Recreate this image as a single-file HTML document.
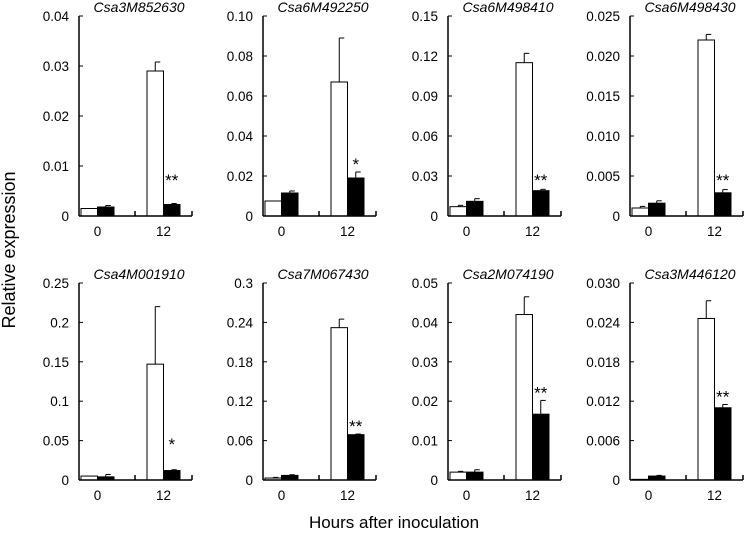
<!DOCTYPE html>
<html><head><meta charset="utf-8"><style>
html,body{margin:0;padding:0;background:#fff;}
svg{display:block;font-family:"Liberation Sans",Arial,sans-serif;}
</style></head><body>
<svg id="c" width="746" height="533">
<text x="15" y="250" font-size="18" text-anchor="middle" transform="rotate(-90 15 250)">Relative expression</text>
<text x="394" y="528" font-size="17" text-anchor="middle">Hours after inoculation</text>
</svg>
<script>
const titles=["Csa3M852630","Csa6M492250","Csa6M498410","Csa6M498430","Csa4M001910","Csa7M067430","Csa2M074190","Csa3M446120"];
const yMax=[0.04,0.10,0.15,0.025,0.25,0.3,0.05,0.030];
const tickLabels=[["0","0.01","0.02","0.03","0.04"],["0","0.02","0.04","0.06","0.08","0.10"],["0","0.03","0.06","0.09","0.12","0.15"],["0","0.005","0.010","0.015","0.020","0.025"],["0","0.05","0.1","0.15","0.2","0.25"],["0","0.06","0.12","0.18","0.24","0.3"],["0","0.01","0.02","0.03","0.04","0.05"],["0","0.006","0.012","0.018","0.024","0.030"]];
const categories=["0","12"];
const mockValues=[[0.0015,0.029],[0.0075,0.067],[0.007,0.115],[0.001,0.022],[0.005,0.147],[0.003,0.232],[0.002,0.042],[0.0001,0.0246]];
const mockErr=[[0,0.0018],[0,0.022],[0.001,0.007],[0.0002,0.0007],[0,0.073],[0.001,0.013],[0.0002,0.0045],[0,0.0027]];
const treatValues=[[0.0018,0.0023],[0.0115,0.019],[0.011,0.019],[0.0016,0.0029],[0.004,0.012],[0.007,0.069],[0.002,0.0167],[0.0006,0.011]];
const treatErr=[[0.0003,0.0002],[0.001,0.003],[0.002,0.001],[0.0003,0.0004],[0.003,0.001],[0.001,0.001],[0.0006,0.0035],[0.0001,0.0005]];
const stars=["**","*","**","**","*","**","**","**"];
const svg=document.getElementById('c');
const NS="http://www.w3.org/2000/svg";
function mk(t,a,p){const e=document.createElementNS(NS,t);for(const k in a)e.setAttribute(k,a[k]);(p||svg).appendChild(e);return e;}
const colX=[79,263,448,630];
for(let i=0;i<8;i++){
  const ax=colX[i%4];
  const top=i<4?16:283, base=i<4?216:480;
  const g=mk('g',{});
  
  
  const y=v=>base-(v/yMax[i])*(base-top);
  const t=mk('text',{x:ax+60,y:top-4,'font-size':14,'font-style':'italic','text-anchor':'middle'},g);t.textContent=titles[i];
  
  
  const labs=tickLabels[i];
  labs.forEach((l,k)=>{
    const v=yMax[i]*k/(labs.length-1);const yy=y(v);
    mk('line',{x1:ax,x2:ax+4,y1:yy,y2:yy,stroke:'#000','stroke-width':1},g);
    const tx=mk('text',{x:ax-10,y:yy+5,'font-size':13.5,'text-anchor':'end'},g);tx.textContent=l;
    
    
  });
  const w=16.5;
  categories.forEach((c,k)=>{
    const gx=ax+2+k*66;
    const bars=[[mockValues[i][k],mockErr[i][k],'#fff'],[treatValues[i][k],treatErr[i][k],'#000']];
    bars.forEach((b,j)=>{
      const bx=gx+j*w, by=y(b[0]);
      const r=mk('rect',{x:bx,y:by,width:w,height:base-by,fill:b[2],stroke:'#000','stroke-width':1},g);
      
      
      if(b[1]>0){const ey=y(b[0]+b[1]);const cx=bx+w/2;
        mk('line',{x1:cx,x2:cx,y1:by,y2:ey,stroke:'#000','stroke-width':1},g);
        mk('line',{x1:cx,x2:cx+5,y1:ey,y2:ey,stroke:'#000','stroke-width':1},g);}
    });
    const lt=mk('text',{x:gx+w,y:base+20,'font-size':13.5,'text-anchor':'middle'},g);lt.textContent=c;
    
    
  });
  const sx=ax+2+66+w*1.5, sy=y(treatValues[i][1]+treatErr[i][1])-8;
  const st=mk('text',{x:sx,y:Math.min(sy,base-36)+6,'font-size':17,'text-anchor':'middle'},g);st.textContent=stars[i];
  
  
  mk('line',{x1:ax,x2:ax,y1:top,y2:base,stroke:'#000','stroke-width':1.5},g);
  mk('line',{x1:ax,x2:ax+113,y1:base,y2:base,stroke:'#000','stroke-width':1.5},g);
  [56,113].forEach(d=>mk('line',{x1:ax+d,x2:ax+d,y1:base,y2:base-5,stroke:'#000','stroke-width':1.5},g));
}
</script>
</body></html>
